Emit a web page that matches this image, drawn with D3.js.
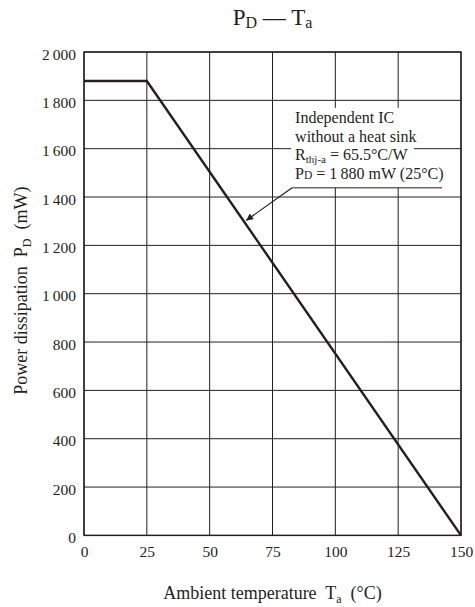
<!DOCTYPE html>
<html>
<head>
<meta charset="utf-8">
<script src="https://cdn.jsdelivr.net/npm/d3@7"></script>
<style>
  html, body { margin: 0; padding: 0; background: #fff; }
  svg text { font-family: "Liberation Serif", "Times New Roman", serif; fill: #231f20; white-space: pre; }
</style>
</head>
<body>
<svg id="chart" width="475" height="607" font-family="Liberation Serif, serif"></svg>
<script>
// ---- data ----
const temperature = [0, 25, 150];          // Ta (°C)
const powerDissipation = [1880, 1880, 0];  // PD (mW)
const xTickValues = [0, 25, 50, 75, 100, 125, 150];
const xTickLabels = ["0", "25", "50", "75", "100", "125", "150"];
const yTickValues = [0, 200, 400, 600, 800, 1000, 1200, 1400, 1600, 1800, 2000];
const yTickLabels = ["0", "200", "400", "600", "800", "1\u2009000", "1\u2009200", "1\u2009400", "1\u2009600", "1\u2009800", "2\u2009000"];
const annotationLines = ["Independent IC", "without a heat sink", "Rthj-a = 65.5°C/W", "PD = 1\u2009880 mW (25°C)"];
const arrowFrom = [82.8, 1438];   // data coords
const arrowTo = [64.5, 1303];

// ---- layout ----
const FONT = "Liberation Serif";
const mLeft = 84, mRight = 461, mTop = 52, mBottom = 535.4;
const svg = d3.select("#chart");
const x = d3.scaleLinear().domain([0, 150]).range([mLeft, mRight]);
const y = d3.scaleLinear().domain([0, 2000]).range([mBottom, mTop]);
const ink = "#231f20";

// grid
const g = svg.append("g");
g.selectAll("line.h").data(yTickValues).join("line")
  .attr("x1", mLeft).attr("x2", mRight)
  .attr("y1", d => y(d)).attr("y2", d => y(d))
  .attr("stroke", ink).attr("stroke-width", 1);
g.selectAll("line.v").data(xTickValues).join("line")
  .attr("y1", mTop).attr("y2", mBottom)
  .attr("x1", d => x(d)).attr("x2", d => x(d))
  .attr("stroke", ink).attr("stroke-width", 1);

// frame
svg.append("rect").attr("x", mLeft).attr("y", mTop)
  .attr("width", mRight - mLeft).attr("height", mBottom - mTop)
  .attr("fill", "none").attr("stroke", ink).attr("stroke-width", 1.4);

// axes labels via d3 axes (no tick lines)
const xAxis = d3.axisBottom(x).tickValues(xTickValues)
  .tickFormat((d, i) => xTickLabels[i]).tickSize(0).tickPadding(0);
const xa = svg.append("g").attr("transform", `translate(0,${mBottom})`).call(xAxis)
  .attr("font-family", FONT).attr("font-size", 15.5);
xa.select(".domain").remove();
xa.selectAll("text").attr("dy", null).attr("y", 21.3)
  .attr("font-family", FONT).attr("font-size", 15.5).attr("fill", ink);

const yAxis = d3.axisLeft(y).tickValues(yTickValues)
  .tickFormat((d, i) => yTickLabels[i]).tickSize(0).tickPadding(0);
const ya = svg.append("g").attr("transform", `translate(76,0)`).call(yAxis)
  .attr("font-family", FONT).attr("font-size", 15.5);
ya.select(".domain").remove();
ya.selectAll("text").attr("dy", null).attr("y", 7.2).attr("x", 0)
  .attr("font-family", FONT).attr("font-size", 15.5).attr("fill", ink);

// data line
const line = d3.line().x((d, i) => x(temperature[i])).y((d, i) => y(powerDissipation[i]));
svg.append("path").datum(temperature).attr("d", line)
  .attr("fill", "none").attr("stroke", ink).attr("stroke-width", 2.4).attr("stroke-linejoin", "miter");

// annotation
const ax0 = x(arrowFrom[0]), ay0 = y(arrowFrom[1]);
svg.append("rect").attr("x", ax0 - 1).attr("y", ay0 - 80)
  .attr("width", 123).attr("height", 80).attr("fill", "#fff");
svg.append("line").attr("x1", ax0).attr("y1", ay0).attr("x2", ax0 + 150).attr("y2", ay0)
  .attr("stroke", ink).attr("stroke-width", 1);

const defs = svg.append("defs");
defs.append("marker").attr("id", "arr").attr("viewBox", "0 0 10 10")
  .attr("refX", 10).attr("refY", 5).attr("markerWidth", 10).attr("markerHeight", 7)
  .attr("markerUnits", "userSpaceOnUse").attr("orient", "auto")
  .append("path").attr("d", "M0,0 L10,5 L0,10 Z").attr("fill", ink);
svg.append("line").attr("x1", ax0).attr("y1", ay0)
  .attr("x2", x(arrowTo[0])).attr("y2", y(arrowTo[1]))
  .attr("stroke", ink).attr("stroke-width", 1.2).attr("marker-end", "url(#arr)");

const tx = ax0 + 3;
const baselines = [-64.7, -46.3, -28, -9];
const ann = svg.append("g").attr("font-size", 16).attr("font-family", FONT);
ann.append("text").attr("x", tx).attr("y", ay0 + baselines[0]).text(annotationLines[0]);
ann.append("text").attr("x", tx).attr("y", ay0 + baselines[1]).text(annotationLines[1]);
const t3 = ann.append("text").attr("x", tx).attr("y", ay0 + baselines[2]);
t3.append("tspan").text("R");
t3.append("tspan").attr("font-size", 11).attr("dy", 3).text("thj-a");
t3.append("tspan").attr("dy", -3).text(" = 65.5°C/W");
const t4 = ann.append("text").attr("x", tx).attr("y", ay0 + baselines[3]);
t4.append("tspan").text("P");
t4.append("tspan").attr("font-size", 11.5).attr("dy", 0).text("D");
t4.append("tspan").attr("dy", 0).text(" = 1\u2009880 mW (25°C)");

// title
const cx = (mLeft + mRight) / 2;
const title = svg.append("text").attr("x", cx).attr("y", 25).attr("text-anchor", "middle")
  .attr("font-size", 23).attr("font-family", FONT);
title.append("tspan").text("P");
title.append("tspan").attr("font-size", 16).attr("dy", 3).text("D");
title.append("tspan").attr("dy", -3).text(" \u2014 T");
title.append("tspan").attr("font-size", 16).attr("dy", 3).text("a");

// x label
const xl = svg.append("text").attr("x", cx).attr("y", 599).attr("text-anchor", "middle")
  .attr("font-size", 18).attr("font-family", FONT);
xl.append("tspan").text("Ambient temperature  T");
xl.append("tspan").attr("font-size", 12).attr("dy", 4).text("a");
xl.append("tspan").attr("dy", -4).text("  (°C)");

// y label
const cy = (mTop + mBottom) / 2;
const yl = svg.append("text").attr("transform", `translate(27,${cy - 3}) rotate(-90)`)
  .attr("text-anchor", "middle").attr("font-size", 18).attr("font-family", FONT);
yl.append("tspan").text("Power dissipation  P");
yl.append("tspan").attr("font-size", 12).attr("dy", 4).text("D");
yl.append("tspan").attr("dy", -4).text("  (mW)");
</script>
</body>
</html>
